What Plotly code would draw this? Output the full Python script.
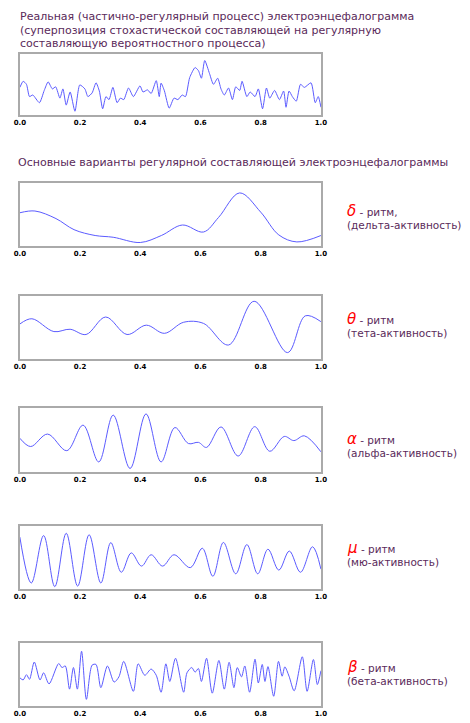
import plotly.graph_objects as go

raw_x = [0,.011,.022,.032,.043,.065,.081,.094,.108,.119,.133,.143,.154,.167,.183,.199,.216,.226,.24,.253,.264,.275,.286,.296,.309,.323,.334,.345,.361,.377,.399,.409,.424,.436,.453,.463,.469,.48,.496,.512,.525,.539,.55,.564,.582,.593,.603,.614,.63,.643,.657,.668,.679,.693,.706,.717,.73,.738,.754,.765,.781,.792,.806,.819,.83,.846,.862,.876,.884,.894,.905,.918,.932,.945,.967,.981,.991,1.0]
raw_y = [.449,.557,.503,.286,.314,.178,.395,.546,.422,.459,.259,.422,.135,.368,.027,.492,.422,.286,.351,.53,.384,.07,.286,.232,.449,.178,.259,.232,.438,.286,.476,.368,.405,.341,.568,.286,.524,.389,.081,.259,.232,.314,.286,.622,.8,.746,.611,.924,.692,.503,.611,.422,.314,.438,.232,.459,.395,.557,.286,.368,.286,.422,.07,.438,.259,.395,.232,.384,.097,.384,.286,.205,.503,.449,.53,.178,.286,.097]

delta_x = [0,.05,.12,.18,.25,.31,.4,.47,.54,.61,.66,.73,.8,.86,.92,1.0]
delta_y = [.53,.56,.43,.24,.14,.11,.02,.14,.32,.20,.45,.87,.54,.15,.03,.14]

theta_x = [0,.04,.113,.167,.22,.285,.356,.42,.48,.544,.61,.693,.778,.889,.948,1.0]
theta_y = [.56,.65,.43,.47,.38,.68,.38,.54,.40,.59,.57,.20,.95,.07,.70,.60]

alpha_x = [0,.036,.092,.156,.21,.262,.31,.366,.419,.469,.515,.56,.593,.62,.668,.725,.78,.83,.878,.91,.945,1.0]
alpha_y = [.53,.39,.60,.32,.75,.13,.92,.02,.94,.13,.71,.44,.46,.375,.72,.23,.725,.31,.56,.49,.57,.30]

mu_x = [0,.038,.079,.116,.154,.192,.23,.269,.302,.337,.37,.404,.436,.474,.512,.566,.606,.641,.676,.717,.754,.79,.824,.86,.895,.932,.972,1.0]
mu_y = [.85,.063,.876,0,.916,.01,.89,.063,.755,.247,.579,.353,.547,.353,.547,.326,.658,.179,.758,.221,.721,.221,.642,.284,.61,.247,.684,.3]

beta_x = [0,.011,.022,.032,.048,.067,.079,.097,.129,.14,.151,.165,.178,.191,.205,.221,.24,.253,.269,.291,.313,.329,.345,.377,.393,.415,.436,.453,.469,.485,.498,.517,.544,.555,.571,.582,.593,.603,.62,.639,.661,.679,.695,.711,.722,.736,.747,.763,.781,.792,.805,.814,.824,.843,.859,.871,.88,.894,.911,.938,.954,.975,.988,1.0]
beta_y = [.444,.407,.497,.418,.714,.407,.529,.339,.688,.619,.646,.249,.619,.249,.899,.074,.661,.672,.275,.646,.37,.46,.725,.212,.683,.487,.593,.487,.196,.683,.381,.778,.196,.529,.619,.54,.603,.381,.778,.18,.741,.249,.709,.275,.619,.46,.646,.196,.762,.354,.672,.381,.635,.127,.725,.471,.63,.471,.22,.804,.212,.757,.328,.566]

tick_vals = [0, 0.2, 0.4, 0.6, 0.8, 1.0]
tick_text = ["0.0", "0.2", "0.4", "0.6", "0.8", "1.0"]

W = 470.0
H = 723.0
DX = 6
DY = 6
panels = [
    (raw_x, raw_y, 52, 113, 0.6),
    (delta_x, delta_y, 181, 244, 1.0),
    (theta_x, theta_y, 294, 357, 1.0),
    (alpha_x, alpha_y, 406, 470, 1.0),
    (mu_x, mu_y, 524, 587, 1.0),
    (beta_x, beta_y, 641, 704, 0.8),
]

fig = go.Figure()
layout = dict(width=470, height=723, margin=dict(l=0, r=0, t=0, b=0),
              paper_bgcolor="white", plot_bgcolor="white", showlegend=False)
for i, (xs, ys, top, bot, sm) in enumerate(panels):
    n = "" if i == 0 else str(i + 1)
    fig.add_trace(go.Scatter(x=xs, y=ys, mode="lines", xaxis="x" + n, yaxis="y" + n,
                             line=dict(color="#5b5bff", width=1, shape="spline", smoothing=sm),
                             hoverinfo="skip"))
    layout["xaxis" + n] = dict(domain=[(12 - DX) / W, (321 - DX) / W], range=[0, 1], anchor="y" + n,
                               showgrid=False, zeroline=False, showline=True, mirror=True,
                               linecolor="#aaaaaa", linewidth=2, tickvals=tick_vals,
                               ticktext=tick_text, ticks="", ticklen=0, ticklabeloverflow="allow",
                               tickfont=dict(family="DejaVu Sans", size=7, color="black", weight="bold"))
    layout["yaxis" + n] = dict(domain=[1 - (bot - DY) / H, 1 - (top - DY) / H], range=[-0.04, 1.04],
                               anchor="x" + n, showgrid=False, zeroline=False, showline=True,
                               mirror=True, linecolor="#aaaaaa", linewidth=2, showticklabels=False)
fig.update_layout(**layout)

col = "#5a2a5a"
def txt(x, y, s, size=11):
    fig.add_annotation(x=(x - DX) / W, y=1 - (y - DY) / H, xref="paper", yref="paper", text=s,
                       showarrow=False, xanchor="left", yanchor="middle",
                       font=dict(family="DejaVu Sans", size=size, color=col))

txt(10, 15, "Реальная (частично-регулярный процесс) электроэнцефалограмма")
txt(10, 28, "(суперпозиция стохастической составляющей на регулярную")
txt(10, 41, "составляющую вероятностного процесса)")
txt(8, 160, "Основные варианты регулярной составляющей электроэнцефалограммы")

labels = [
    ("δ", " - ритм,", "(дельта-активность)", 210),
    ("θ", " - ритм", "(тета-активность)", 318),
    ("α", " - ритм", "(альфа-активность)", 438),
    ("μ", " - ритм", "(мю-активность)", 547),
    ("β", " - ритм", "(бета-активность)", 666),
]
for g, a, b, y in labels:
    txt(346, y - 1, '<span style="color:red;font-size:15px"><i>%s</i></span>%s' % (g, a), 10.5)
    txt(346, y + 13, b, 10.5)

fig.write_html("out.html")
